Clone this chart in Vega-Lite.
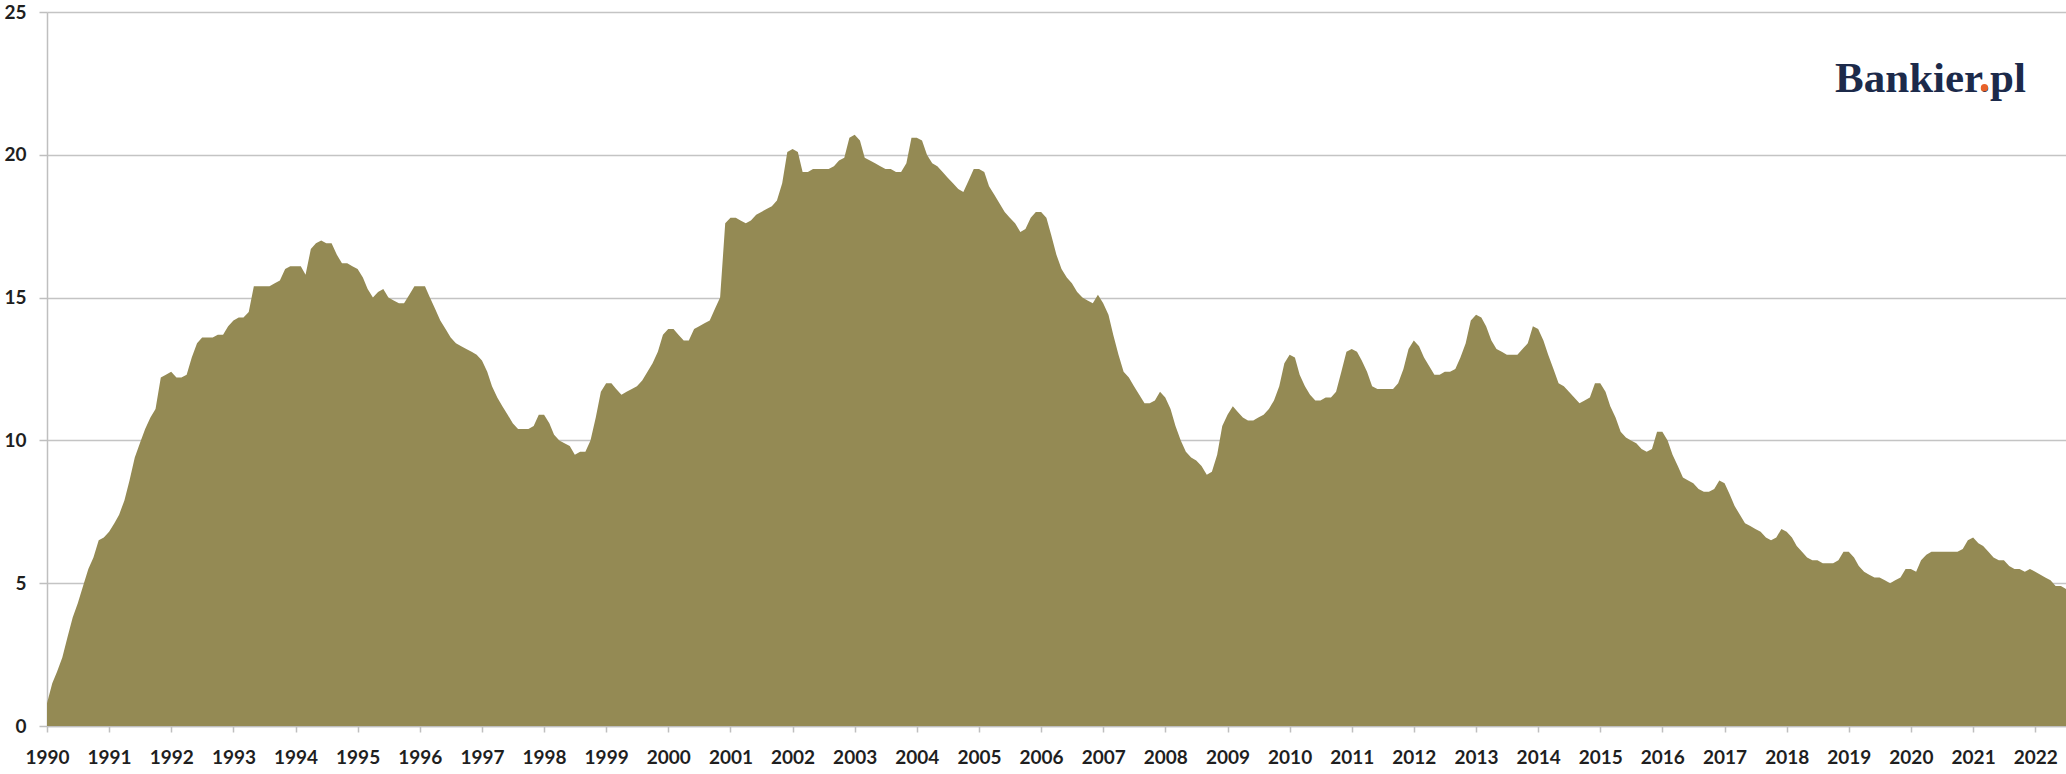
{
  "$schema": "https://vega.github.io/schema/vega-lite/v6.json",
  "width": 2019,
  "height": 714,
  "autosize": {"type": "none"},
  "padding": {"left": 47, "top": 12, "right": 0, "bottom": 48},
  "background": "white",
  "config": {"view": {"stroke": null}},
  "datasets": {
    "logo": [{"label": "Bankier.pl"}],
    "dot": [{"xo": -41.4, "yo": -4.3}],
    "series": [
{"d":"1990-01-01","v":0.8},{"d":"1990-02-01","v":1.5},{"d":"1990-03-01","v":1.9},{"d":"1990-04-01","v":2.4},{"d":"1990-05-01","v":3.1},{"d":"1990-06-01","v":3.8},{"d":"1990-07-01","v":4.3},{"d":"1990-08-01","v":4.9},{"d":"1990-09-01","v":5.5},{"d":"1990-10-01","v":5.9},{"d":"1990-11-01","v":6.5},{"d":"1990-12-01","v":6.6},
{"d":"1991-01-01","v":6.8},{"d":"1991-02-01","v":7.1},{"d":"1991-03-01","v":7.4},{"d":"1991-04-01","v":7.9},{"d":"1991-05-01","v":8.6},{"d":"1991-06-01","v":9.4},{"d":"1991-07-01","v":9.9},{"d":"1991-08-01","v":10.4},{"d":"1991-09-01","v":10.8},{"d":"1991-10-01","v":11.1},{"d":"1991-11-01","v":12.2},{"d":"1991-12-01","v":12.3},
{"d":"1992-01-01","v":12.4},{"d":"1992-02-01","v":12.2},{"d":"1992-03-01","v":12.2},{"d":"1992-04-01","v":12.3},{"d":"1992-05-01","v":12.9},{"d":"1992-06-01","v":13.4},{"d":"1992-07-01","v":13.6},{"d":"1992-08-01","v":13.6},{"d":"1992-09-01","v":13.6},{"d":"1992-10-01","v":13.7},{"d":"1992-11-01","v":13.7},{"d":"1992-12-01","v":14.0},
{"d":"1993-01-01","v":14.2},{"d":"1993-02-01","v":14.3},{"d":"1993-03-01","v":14.3},{"d":"1993-04-01","v":14.5},{"d":"1993-05-01","v":15.4},{"d":"1993-06-01","v":15.4},{"d":"1993-07-01","v":15.4},{"d":"1993-08-01","v":15.4},{"d":"1993-09-01","v":15.5},{"d":"1993-10-01","v":15.6},{"d":"1993-11-01","v":16.0},{"d":"1993-12-01","v":16.1},
{"d":"1994-01-01","v":16.1},{"d":"1994-02-01","v":16.1},{"d":"1994-03-01","v":15.8},{"d":"1994-04-01","v":16.7},{"d":"1994-05-01","v":16.9},{"d":"1994-06-01","v":17.0},{"d":"1994-07-01","v":16.9},{"d":"1994-08-01","v":16.9},{"d":"1994-09-01","v":16.5},{"d":"1994-10-01","v":16.2},{"d":"1994-11-01","v":16.2},{"d":"1994-12-01","v":16.1},
{"d":"1995-01-01","v":16.0},{"d":"1995-02-01","v":15.7},{"d":"1995-03-01","v":15.3},{"d":"1995-04-01","v":15.0},{"d":"1995-05-01","v":15.2},{"d":"1995-06-01","v":15.3},{"d":"1995-07-01","v":15.0},{"d":"1995-08-01","v":14.9},{"d":"1995-09-01","v":14.8},{"d":"1995-10-01","v":14.8},{"d":"1995-11-01","v":15.1},{"d":"1995-12-01","v":15.4},
{"d":"1996-01-01","v":15.4},{"d":"1996-02-01","v":15.4},{"d":"1996-03-01","v":15.0},{"d":"1996-04-01","v":14.6},{"d":"1996-05-01","v":14.2},{"d":"1996-06-01","v":13.9},{"d":"1996-07-01","v":13.6},{"d":"1996-08-01","v":13.4},{"d":"1996-09-01","v":13.3},{"d":"1996-10-01","v":13.2},{"d":"1996-11-01","v":13.1},{"d":"1996-12-01","v":13.0},
{"d":"1997-01-01","v":12.8},{"d":"1997-02-01","v":12.4},{"d":"1997-03-01","v":11.9},{"d":"1997-04-01","v":11.5},{"d":"1997-05-01","v":11.2},{"d":"1997-06-01","v":10.9},{"d":"1997-07-01","v":10.6},{"d":"1997-08-01","v":10.4},{"d":"1997-09-01","v":10.4},{"d":"1997-10-01","v":10.4},{"d":"1997-11-01","v":10.5},{"d":"1997-12-01","v":10.9},
{"d":"1998-01-01","v":10.9},{"d":"1998-02-01","v":10.6},{"d":"1998-03-01","v":10.2},{"d":"1998-04-01","v":10.0},{"d":"1998-05-01","v":9.9},{"d":"1998-06-01","v":9.8},{"d":"1998-07-01","v":9.5},{"d":"1998-08-01","v":9.6},{"d":"1998-09-01","v":9.6},{"d":"1998-10-01","v":10.0},{"d":"1998-11-01","v":10.8},{"d":"1998-12-01","v":11.7},
{"d":"1999-01-01","v":12.0},{"d":"1999-02-01","v":12.0},{"d":"1999-03-01","v":11.8},{"d":"1999-04-01","v":11.6},{"d":"1999-05-01","v":11.7},{"d":"1999-06-01","v":11.8},{"d":"1999-07-01","v":11.9},{"d":"1999-08-01","v":12.1},{"d":"1999-09-01","v":12.4},{"d":"1999-10-01","v":12.7},{"d":"1999-11-01","v":13.1},{"d":"1999-12-01","v":13.7},
{"d":"2000-01-01","v":13.9},{"d":"2000-02-01","v":13.9},{"d":"2000-03-01","v":13.7},{"d":"2000-04-01","v":13.5},{"d":"2000-05-01","v":13.5},{"d":"2000-06-01","v":13.9},{"d":"2000-07-01","v":14.0},{"d":"2000-08-01","v":14.1},{"d":"2000-09-01","v":14.2},{"d":"2000-10-01","v":14.6},{"d":"2000-11-01","v":15.0},{"d":"2000-12-01","v":17.6},
{"d":"2001-01-01","v":17.8},{"d":"2001-02-01","v":17.8},{"d":"2001-03-01","v":17.7},{"d":"2001-04-01","v":17.6},{"d":"2001-05-01","v":17.7},{"d":"2001-06-01","v":17.9},{"d":"2001-07-01","v":18.0},{"d":"2001-08-01","v":18.1},{"d":"2001-09-01","v":18.2},{"d":"2001-10-01","v":18.4},{"d":"2001-11-01","v":19.0},{"d":"2001-12-01","v":20.1},
{"d":"2002-01-01","v":20.2},{"d":"2002-02-01","v":20.1},{"d":"2002-03-01","v":19.4},{"d":"2002-04-01","v":19.4},{"d":"2002-05-01","v":19.5},{"d":"2002-06-01","v":19.5},{"d":"2002-07-01","v":19.5},{"d":"2002-08-01","v":19.5},{"d":"2002-09-01","v":19.6},{"d":"2002-10-01","v":19.8},{"d":"2002-11-01","v":19.9},{"d":"2002-12-01","v":20.6},
{"d":"2003-01-01","v":20.7},{"d":"2003-02-01","v":20.5},{"d":"2003-03-01","v":19.9},{"d":"2003-04-01","v":19.8},{"d":"2003-05-01","v":19.7},{"d":"2003-06-01","v":19.6},{"d":"2003-07-01","v":19.5},{"d":"2003-08-01","v":19.5},{"d":"2003-09-01","v":19.4},{"d":"2003-10-01","v":19.4},{"d":"2003-11-01","v":19.7},{"d":"2003-12-01","v":20.6},
{"d":"2004-01-01","v":20.6},{"d":"2004-02-01","v":20.5},{"d":"2004-03-01","v":20.0},{"d":"2004-04-01","v":19.7},{"d":"2004-05-01","v":19.6},{"d":"2004-06-01","v":19.4},{"d":"2004-07-01","v":19.2},{"d":"2004-08-01","v":19.0},{"d":"2004-09-01","v":18.8},{"d":"2004-10-01","v":18.7},{"d":"2004-11-01","v":19.1},{"d":"2004-12-01","v":19.5},
{"d":"2005-01-01","v":19.5},{"d":"2005-02-01","v":19.4},{"d":"2005-03-01","v":18.9},{"d":"2005-04-01","v":18.6},{"d":"2005-05-01","v":18.3},{"d":"2005-06-01","v":18.0},{"d":"2005-07-01","v":17.8},{"d":"2005-08-01","v":17.6},{"d":"2005-09-01","v":17.3},{"d":"2005-10-01","v":17.4},{"d":"2005-11-01","v":17.8},{"d":"2005-12-01","v":18.0},
{"d":"2006-01-01","v":18.0},{"d":"2006-02-01","v":17.8},{"d":"2006-03-01","v":17.2},{"d":"2006-04-01","v":16.5},{"d":"2006-05-01","v":16.0},{"d":"2006-06-01","v":15.7},{"d":"2006-07-01","v":15.5},{"d":"2006-08-01","v":15.2},{"d":"2006-09-01","v":15.0},{"d":"2006-10-01","v":14.9},{"d":"2006-11-01","v":14.8},{"d":"2006-12-01","v":15.1},
{"d":"2007-01-01","v":14.8},{"d":"2007-02-01","v":14.4},{"d":"2007-03-01","v":13.7},{"d":"2007-04-01","v":13.0},{"d":"2007-05-01","v":12.4},{"d":"2007-06-01","v":12.2},{"d":"2007-07-01","v":11.9},{"d":"2007-08-01","v":11.6},{"d":"2007-09-01","v":11.3},{"d":"2007-10-01","v":11.3},{"d":"2007-11-01","v":11.4},{"d":"2007-12-01","v":11.7},
{"d":"2008-01-01","v":11.5},{"d":"2008-02-01","v":11.1},{"d":"2008-03-01","v":10.5},{"d":"2008-04-01","v":10.0},{"d":"2008-05-01","v":9.6},{"d":"2008-06-01","v":9.4},{"d":"2008-07-01","v":9.3},{"d":"2008-08-01","v":9.1},{"d":"2008-09-01","v":8.8},{"d":"2008-10-01","v":8.9},{"d":"2008-11-01","v":9.5},{"d":"2008-12-01","v":10.5},
{"d":"2009-01-01","v":10.9},{"d":"2009-02-01","v":11.2},{"d":"2009-03-01","v":11.0},{"d":"2009-04-01","v":10.8},{"d":"2009-05-01","v":10.7},{"d":"2009-06-01","v":10.7},{"d":"2009-07-01","v":10.8},{"d":"2009-08-01","v":10.9},{"d":"2009-09-01","v":11.1},{"d":"2009-10-01","v":11.4},{"d":"2009-11-01","v":11.9},{"d":"2009-12-01","v":12.7},
{"d":"2010-01-01","v":13.0},{"d":"2010-02-01","v":12.9},{"d":"2010-03-01","v":12.3},{"d":"2010-04-01","v":11.9},{"d":"2010-05-01","v":11.6},{"d":"2010-06-01","v":11.4},{"d":"2010-07-01","v":11.4},{"d":"2010-08-01","v":11.5},{"d":"2010-09-01","v":11.5},{"d":"2010-10-01","v":11.7},{"d":"2010-11-01","v":12.4},{"d":"2010-12-01","v":13.1},
{"d":"2011-01-01","v":13.2},{"d":"2011-02-01","v":13.1},{"d":"2011-03-01","v":12.8},{"d":"2011-04-01","v":12.4},{"d":"2011-05-01","v":11.9},{"d":"2011-06-01","v":11.8},{"d":"2011-07-01","v":11.8},{"d":"2011-08-01","v":11.8},{"d":"2011-09-01","v":11.8},{"d":"2011-10-01","v":12.0},{"d":"2011-11-01","v":12.5},{"d":"2011-12-01","v":13.2},
{"d":"2012-01-01","v":13.5},{"d":"2012-02-01","v":13.3},{"d":"2012-03-01","v":12.9},{"d":"2012-04-01","v":12.6},{"d":"2012-05-01","v":12.3},{"d":"2012-06-01","v":12.3},{"d":"2012-07-01","v":12.4},{"d":"2012-08-01","v":12.4},{"d":"2012-09-01","v":12.5},{"d":"2012-10-01","v":12.9},{"d":"2012-11-01","v":13.4},{"d":"2012-12-01","v":14.2},
{"d":"2013-01-01","v":14.4},{"d":"2013-02-01","v":14.3},{"d":"2013-03-01","v":14.0},{"d":"2013-04-01","v":13.5},{"d":"2013-05-01","v":13.2},{"d":"2013-06-01","v":13.1},{"d":"2013-07-01","v":13.0},{"d":"2013-08-01","v":13.0},{"d":"2013-09-01","v":13.0},{"d":"2013-10-01","v":13.2},{"d":"2013-11-01","v":13.4},{"d":"2013-12-01","v":14.0},
{"d":"2014-01-01","v":13.9},{"d":"2014-02-01","v":13.5},{"d":"2014-03-01","v":13.0},{"d":"2014-04-01","v":12.5},{"d":"2014-05-01","v":12.0},{"d":"2014-06-01","v":11.9},{"d":"2014-07-01","v":11.7},{"d":"2014-08-01","v":11.5},{"d":"2014-09-01","v":11.3},{"d":"2014-10-01","v":11.4},{"d":"2014-11-01","v":11.5},{"d":"2014-12-01","v":12.0},
{"d":"2015-01-01","v":12.0},{"d":"2015-02-01","v":11.7},{"d":"2015-03-01","v":11.2},{"d":"2015-04-01","v":10.8},{"d":"2015-05-01","v":10.3},{"d":"2015-06-01","v":10.1},{"d":"2015-07-01","v":10.0},{"d":"2015-08-01","v":9.9},{"d":"2015-09-01","v":9.7},{"d":"2015-10-01","v":9.6},{"d":"2015-11-01","v":9.7},{"d":"2015-12-01","v":10.3},
{"d":"2016-01-01","v":10.3},{"d":"2016-02-01","v":10.0},{"d":"2016-03-01","v":9.5},{"d":"2016-04-01","v":9.1},{"d":"2016-05-01","v":8.7},{"d":"2016-06-01","v":8.6},{"d":"2016-07-01","v":8.5},{"d":"2016-08-01","v":8.3},{"d":"2016-09-01","v":8.2},{"d":"2016-10-01","v":8.2},{"d":"2016-11-01","v":8.3},{"d":"2016-12-01","v":8.6},
{"d":"2017-01-01","v":8.5},{"d":"2017-02-01","v":8.1},{"d":"2017-03-01","v":7.7},{"d":"2017-04-01","v":7.4},{"d":"2017-05-01","v":7.1},{"d":"2017-06-01","v":7.0},{"d":"2017-07-01","v":6.9},{"d":"2017-08-01","v":6.8},{"d":"2017-09-01","v":6.6},{"d":"2017-10-01","v":6.5},{"d":"2017-11-01","v":6.6},{"d":"2017-12-01","v":6.9},
{"d":"2018-01-01","v":6.8},{"d":"2018-02-01","v":6.6},{"d":"2018-03-01","v":6.3},{"d":"2018-04-01","v":6.1},{"d":"2018-05-01","v":5.9},{"d":"2018-06-01","v":5.8},{"d":"2018-07-01","v":5.8},{"d":"2018-08-01","v":5.7},{"d":"2018-09-01","v":5.7},{"d":"2018-10-01","v":5.7},{"d":"2018-11-01","v":5.8},{"d":"2018-12-01","v":6.1},
{"d":"2019-01-01","v":6.1},{"d":"2019-02-01","v":5.9},{"d":"2019-03-01","v":5.6},{"d":"2019-04-01","v":5.4},{"d":"2019-05-01","v":5.3},{"d":"2019-06-01","v":5.2},{"d":"2019-07-01","v":5.2},{"d":"2019-08-01","v":5.1},{"d":"2019-09-01","v":5.0},{"d":"2019-10-01","v":5.1},{"d":"2019-11-01","v":5.2},{"d":"2019-12-01","v":5.5},
{"d":"2020-01-01","v":5.5},{"d":"2020-02-01","v":5.4},{"d":"2020-03-01","v":5.8},{"d":"2020-04-01","v":6.0},{"d":"2020-05-01","v":6.1},{"d":"2020-06-01","v":6.1},{"d":"2020-07-01","v":6.1},{"d":"2020-08-01","v":6.1},{"d":"2020-09-01","v":6.1},{"d":"2020-10-01","v":6.1},{"d":"2020-11-01","v":6.2},{"d":"2020-12-01","v":6.5},
{"d":"2021-01-01","v":6.6},{"d":"2021-02-01","v":6.4},{"d":"2021-03-01","v":6.3},{"d":"2021-04-01","v":6.1},{"d":"2021-05-01","v":5.9},{"d":"2021-06-01","v":5.8},{"d":"2021-07-01","v":5.8},{"d":"2021-08-01","v":5.6},{"d":"2021-09-01","v":5.5},{"d":"2021-10-01","v":5.5},{"d":"2021-11-01","v":5.4},{"d":"2021-12-01","v":5.5},
{"d":"2022-01-01","v":5.4},{"d":"2022-02-01","v":5.3},{"d":"2022-03-01","v":5.2},{"d":"2022-04-01","v":5.1},{"d":"2022-05-01","v":4.9},{"d":"2022-06-01","v":4.9},{"d":"2022-07-01","v":4.8}
    ]
  },
  "layer": [
    {
      "data": {"name": "series"},
      "mark": {"type": "area", "color": "#948A54", "interpolate": "linear", "clip": true},
      "encoding": {
        "x": {
          "field": "d", "type": "temporal",
          "scale": {"type": "utc", "domain": [{"year": 1990, "month": 1, "date": 1, "utc": true}, {"year": 2022, "month": 7, "date": 1, "utc": true}], "nice": false},
          "axis": {
            "title": null, "format": "%Y", "tickCount": {"interval": "year", "step": 1},
            "grid": false, "domainColor": "#BFBFBF", "domainWidth": 1.5,
            "tickColor": "#BFBFBF", "tickWidth": 1.5, "tickSize": 6,
            "labelFont": "Lato", "labelFontWeight": "bold", "labelFontSize": 19, "labelColor": "#1F1F1F",
            "labelPadding": 16, "labelOverlap": false, "labelFlush": false
          }
        },
        "y": {
          "field": "v", "type": "quantitative",
          "scale": {"domain": [0, 25], "nice": false, "zero": true},
          "axis": {
            "title": null, "values": [0, 5, 10, 15, 20, 25],
            "grid": true, "gridColor": "#C4C4C4", "gridWidth": 1.5,
            "domainColor": "#BFBFBF", "domainWidth": 1.5,
            "tickColor": "#BFBFBF", "tickWidth": 1.5, "tickSize": 8,
            "labelFont": "Lato", "labelFontWeight": "bold", "labelFontSize": 19, "labelColor": "#1F1F1F",
            "labelPadding": 13
          }
        }
      }
    },
    {
      "data": {"name": "logo"},
      "mark": {"type": "text", "font": "Liberation Serif", "fontWeight": "bold", "fontSize": 43, "align": "right", "baseline": "alphabetic", "color": "#1C2A4A"},
      "encoding": {
        "x": {"datum": {"year": 2021, "month": 11, "date": 7, "utc": true}, "type": "temporal"},
        "y": {"datum": 22.2, "type": "quantitative"},
        "text": {"field": "label"}
      }
    },
    {
      "data": {"name": "dot"},
      "mark": {"type": "point", "shape": "circle", "filled": true, "opacity": 1, "size": 52, "color": "#E8622A"},
      "encoding": {
        "x": {"datum": {"year": 2021, "month": 11, "date": 7, "utc": true}, "type": "temporal"},
        "y": {"datum": 22.2, "type": "quantitative"},
        "xOffset": {"field": "xo", "type": "quantitative", "scale": null},
        "yOffset": {"field": "yo", "type": "quantitative", "scale": null}
      }
    }
  ]
}
